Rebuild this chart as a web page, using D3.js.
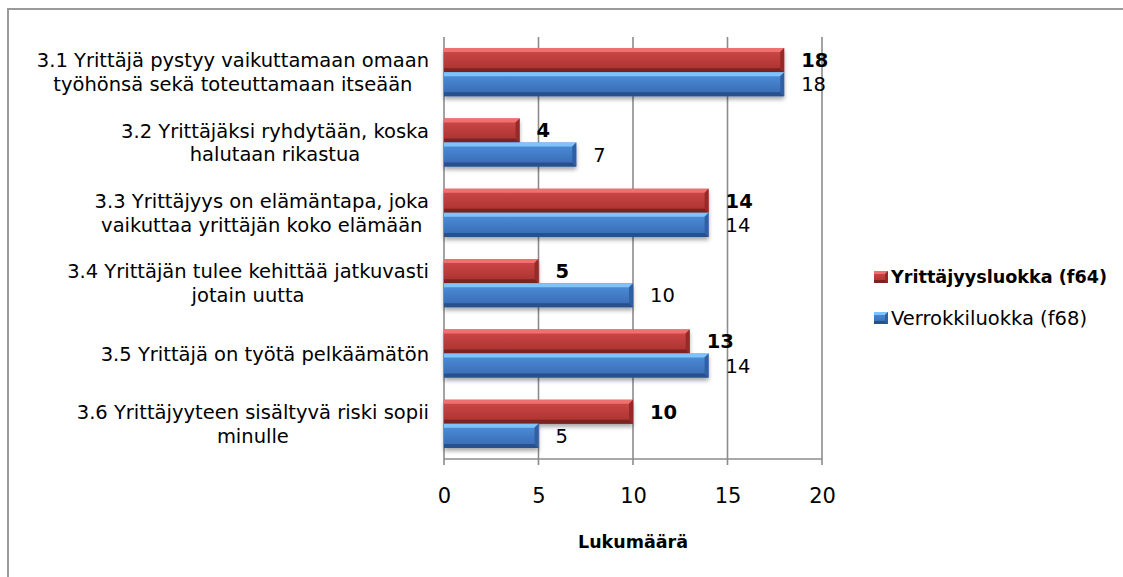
<!DOCTYPE html>
<html><head><meta charset="utf-8">
<script src="https://cdn.jsdelivr.net/npm/d3@7"></script>
<style>
html,body{margin:0;padding:0;background:#fff;}
svg{display:block;font-family:"DejaVu Sans",sans-serif;}
</style></head>
<body><svg id="c" width="1123" height="577"></svg>
<script>
const categories = [
  ["3.1 Yrittäjä pystyy vaikuttamaan omaan", "työhönsä sekä toteuttamaan itseään"],
  ["3.2 Yrittäjäksi ryhdytään, koska", "halutaan rikastua"],
  ["3.3 Yrittäjyys on elämäntapa, joka", "vaikuttaa yrittäjän koko elämään"],
  ["3.4 Yrittäjän tulee kehittää jatkuvasti", "jotain uutta"],
  ["3.5 Yrittäjä on työtä pelkäämätön"],
  ["3.6 Yrittäjyyteen sisältyvä riski sopii", "minulle"]
];
const seriesNames = ["Yrittäjyysluokka (f64)", "Verrokkiluokka (f68)"];
const yrittajyysluokka = [18, 4, 14, 5, 13, 10];
const verrokkiluokka = [18, 7, 14, 10, 14, 5];
const xTicks = [0, 5, 10, 15, 20];
const axisTitle = "Lukumäärä";

const svg = d3.select("#c");
const styles = [
  {main0:"#d04a48", main1:"#a8302e", top:"#f07070", bot:"#7a2422", end:"#962a28", bold:true},
  {main0:"#4e90dc", main1:"#3768b0", top:"#80c2fa", bot:"#28508c", end:"#3060a2", bold:false}
];
const defs = svg.append("defs");
styles.forEach((s,i)=>{
  const g = defs.append("linearGradient").attr("id","g"+i).attr("x1",0).attr("y1",0).attr("x2",0).attr("y2",1);
  g.append("stop").attr("offset","0%").attr("stop-color",s.main0);
  g.append("stop").attr("offset","100%").attr("stop-color",s.main1);
});
const f = defs.append("filter").attr("id","sh").attr("x","-5%").attr("y","-30%").attr("width","110%").attr("height","180%");
f.append("feDropShadow").attr("dx",0).attr("dy",3).attr("stdDeviation",2.2).attr("flood-color","#000").attr("flood-opacity",0.35);

// frame
svg.append("rect").attr("x",8).attr("y",9).attr("width",1200).attr("height",700)
  .attr("fill","none").attr("stroke","#9a9a9a").attr("stroke-width",2);

const x = d3.scaleLinear().domain([0,20]).range([444,822]);
const y = d3.scaleBand().domain(d3.range(categories.length)).range([37,459]).paddingInner(0.315).paddingOuter(0.1575);
const ys = d3.scaleBand().domain([0,1]).range([0,y.bandwidth()]);

// grid
svg.append("g").selectAll("line").data(xTicks).join("line")
  .attr("x1",d=>x(d)).attr("x2",d=>x(d)).attr("y1",37).attr("y2",465)
  .attr("stroke","#8c8c8c").attr("stroke-width",1.6);
svg.append("line").attr("x1",444).attr("x2",822).attr("y1",459).attr("y2",459)
  .attr("stroke","#8c8c8c").attr("stroke-width",1.6);

// tick labels
const xAxis = d3.axisBottom(x).tickValues(xTicks).tickSize(0).tickPadding(0);
const ax = svg.append("g").attr("transform","translate(0,459)").call(xAxis);
ax.select(".domain").remove();
ax.selectAll("text").attr("y",44).attr("dy",0).attr("font-size","21px").attr("fill","#000")
  .attr("font-family","DejaVu Sans");

// fit a text's font size to a target width
function fitText(sel, base, target){
  sel.attr("font-size", base+"px");
  const w = sel.node().getComputedTextLength();
  if (w > target) sel.attr("font-size", (base*target/w).toFixed(2)+"px");
  return sel;
}

fitText(svg.append("text").attr("x",633).attr("y",548).attr("text-anchor","middle")
  .attr("font-weight","bold").text(axisTitle), 19.5, 110);

// bars
const data = [yrittajyysluokka, verrokkiluokka];
function bevelBar(g, x0, x1, yy, h, s, b){
  g.append("rect").attr("x",x0).attr("y",yy).attr("width",x1-x0).attr("height",h).attr("fill",s.fillUrl).attr("filter",s.filter||null);
  g.append("polygon").attr("points",`${x0},${yy} ${x1},${yy} ${x1-b},${yy+b} ${x0},${yy+b}`).attr("fill",s.top);
  g.append("polygon").attr("points",`${x0},${yy+h-b} ${x1-b},${yy+h-b} ${x1},${yy+h} ${x0},${yy+h}`).attr("fill",s.bot);
  g.append("polygon").attr("points",`${x1-b},${yy+b} ${x1},${yy} ${x1},${yy+h} ${x1-b},${yy+h-b}`).attr("fill",s.end);
}
const barsG = svg.append("g");
data.forEach((vals,si)=>{
  const s = Object.assign({}, styles[si], {fillUrl:`url(#g${si})`, filter:"url(#sh)"});
  vals.forEach((v,ci)=>{
    const yy = y(ci)+ys(si);
    const h = ys.bandwidth();
    bevelBar(barsG, x(0), x(v), yy, h, s, 4);
    svg.append("text").attr("x",x(v)+17).attr("y",yy+h/2).attr("dy","0.36em")
      .attr("font-size","19.5px").attr("font-weight",styles[si].bold?"bold":"normal").text(v);
  });
});

// category labels
const catG = svg.append("g");
categories.forEach((lines,ci)=>{
  const t = catG.append("text").attr("font-size","19.5px").attr("text-anchor","middle");
  const spans = lines.map(l=>t.append("tspan").text(l));
  const widths = spans.map(sp=>sp.node().getComputedTextLength());
  const maxW = d3.max(widths);
  const cx = 429 - maxW/2;
  const lh = 23.5;
  const cy = y(ci)+y.bandwidth()/2;
  const first = cy - (lines.length-1)*lh/2;
  spans.forEach((sp,i)=>sp.attr("x",cx).attr("y",first+i*lh).attr("dy","0.36em"));
});

// legend
const legY = [277, 318];
const legW = [216, 204];
seriesNames.forEach((n,i)=>{
  const s = Object.assign({}, styles[i], {fillUrl:`url(#g${i})`});
  const g = svg.append("g");
  bevelBar(g, 874, 888, legY[i]-6, 12, s, 3);
  fitText(svg.append("text").attr("x",891).attr("y",legY[i]).attr("dy","0.36em")
    .attr("font-weight",i===0?"bold":"normal").text(n), 19.5, legW[i]);
});
</script></body></html>
